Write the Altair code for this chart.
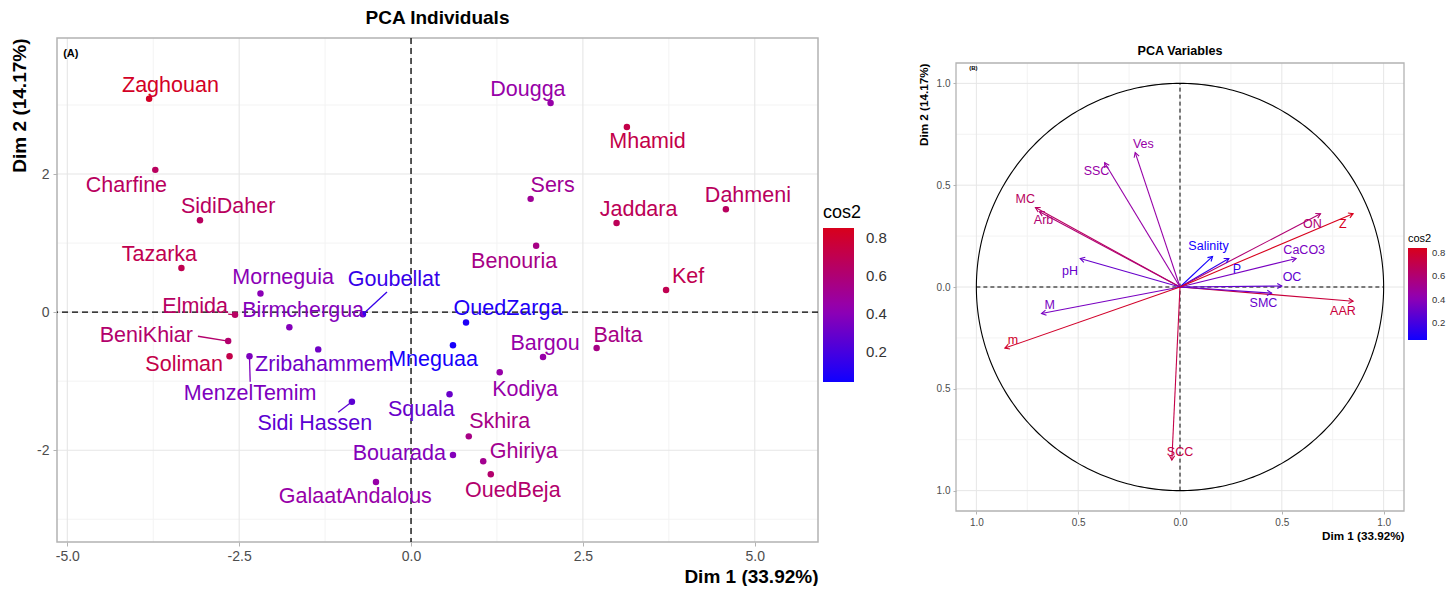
import numpy as np
import pandas as pd
import altair as alt

FONT = "Liberation Sans, Arial, sans-serif"

# ---------------- Individuals ----------------
names = ["Zaghouan", "Charfine", "SidiDaher", "Tazarka", "Morneguia", "Goubellat", "Elmida",
         "Birmchergua", "BeniKhiar", "Soliman", "Zribahammem", "MenzelTemim", "Sidi Hassen",
         "Mneguaa", "OuedZarga", "Squala", "Bouarada", "GalaatAndalous", "Skhira", "Dougga",
         "Mhamid", "Sers", "Jaddara", "Dahmeni", "Benouria", "Kef", "Bargou", "Balta",
         "Kodiya", "Ghiriya", "OuedBeja"]
dim1 = [-3.81, -3.72, -3.07, -3.34, -2.19, -0.70, -2.56, -1.77, -2.66, -2.64, -1.35, -2.35,
        -0.86, 0.61, 0.80, 0.56, 0.61, -0.51, 0.84, 2.03, 3.14, 1.74, 2.99, 4.58, 1.82, 3.71,
        1.92, 2.70, 1.29, 1.05, 1.16]
dim2 = [3.09, 2.06, 1.33, 0.64, 0.27, -0.03, -0.04, -0.22, -0.42, -0.64, -0.54, -0.64,
        -1.30, -0.48, -0.15, -1.19, -2.07, -2.46, -1.80, 3.03, 2.68, 1.64, 1.29, 1.49, 0.96,
        0.32, -0.65, -0.52, -0.87, -2.16, -2.35]
cos2 = [0.82, 0.66, 0.66, 0.70, 0.40, 0.15, 0.65, 0.38, 0.62, 0.72, 0.32, 0.36, 0.26, 0.06,
        0.08, 0.30, 0.38, 0.45, 0.55, 0.45, 0.72, 0.50, 0.68, 0.66, 0.55, 0.70, 0.45, 0.55,
        0.45, 0.52, 0.62]
lab_x = [-3.50, -4.14, -2.66, -3.66, -1.86, -0.25, -3.14, -1.57, -3.85, -3.30, -1.26, -2.34,
         -1.40, 0.32, 1.41, 0.15, -0.17, -0.81, 1.29, 1.70, 3.44, 2.06, 3.31, 4.90, 1.50,
         4.03, 1.95, 3.01, 1.66, 1.64, 1.48]
lab_y = [3.28, 1.83, 1.52, 0.83, 0.49, 0.46, 0.07, 0.01, -0.35, -0.77, -0.77, -1.19, -1.62,
         -0.70, 0.04, -1.42, -2.06, -2.68, -1.59, 3.22, 2.46, 1.83, 1.48, 1.68, 0.72, 0.51,
         -0.46, -0.35, -1.13, -2.03, -2.59]

# repel segments (label end, in data units)
seg_name = ["Goubellat", "BeniKhiar", "Sidi Hassen", "MenzelTemim", "Elmida"]
seg_end_x = [-0.35, -3.10, -1.06, -2.34, -2.66]
seg_end_y = [0.29, -0.35, -1.45, -1.01, -0.03]

x1_domain = [-5.15, 5.92]
y1_domain = [-3.33, 3.97]
x1_major = [-5.0, -2.5, 0.0, 2.5, 5.0]
x1_minor = [-3.75, -1.25, 1.25, 3.75]
y1_major = [-2, 0, 2]
y1_minor = [-3, -1, 1, 3]

# ---------------- Variables ----------------
vars_ = ["Ves", "SSC", "MC", "Arb", "pH", "M", "m", "SCC", "AAR", "SMC", "OC", "CaCO3", "P",
         "Salinity", "ON", "Z"]
v1 = [-0.22, -0.37, -0.71, -0.69, -0.49, -0.68, -0.86, -0.04, 0.85, 0.45, 0.50, 0.57, 0.24,
      0.16, 0.69, 0.85]
v2 = [0.66, 0.61, 0.39, 0.37, 0.14, -0.13, -0.30, -0.85, -0.07, -0.03, 0.005, 0.14, 0.14,
      0.15, 0.36, 0.36]
vcos2 = [0.45, 0.45, 0.65, 0.60, 0.30, 0.35, 0.80, 0.72, 0.75, 0.30, 0.28, 0.35, 0.15, 0.06,
         0.60, 0.84]
vlab_x = [-0.18, -0.41, -0.76, -0.67, -0.54, -0.64, -0.82, 0.00, 0.80, 0.41, 0.55, 0.61,
          0.28, 0.14, 0.65, 0.80]
vlab_y = [0.70, 0.57, 0.43, 0.33, 0.08, -0.09, -0.26, -0.81, -0.12, -0.08, 0.05, 0.18, 0.09,
          0.20, 0.31, 0.31]

x2_domain = [-1.1, 1.1]
y2_domain = [-1.1, 1.1]
r_major = [-1.0, -0.5, 0.0, 0.5, 1.0]
r_minor = [-0.75, -0.25, 0.25, 0.75]

# ---------------- colours ----------------
COLS = ["#1000FF", "#9200B2", "#D8001C"]
C1 = [0.04, 0.42, 0.85]      # left colour stops (cos2)
C2 = [0.055, 0.42, 0.84]     # right colour stops (cos2)

# ================= LEFT PANEL =================
W1, H1 = 761, 504
xs1 = alt.Scale(domain=x1_domain, nice=False, zero=False)
ys1 = alt.Scale(domain=y1_domain, nice=False, zero=False)
ax_x1 = alt.Axis(values=x1_major, labelExpr="replace(format(datum.value, '.1f'), '\u2212', '-')",
                 title="Dim 1 (33.92%)", grid=False,
                 domain=False, tickSize=4, tickColor="#B3B3B3", labelFontSize=14,
                 labelColor="#4D4D4D", labelPadding=3, titleFontSize=19, titleFontWeight="bold",
                 titleColor="#000000", titleAnchor="end", titlePadding=4, labelFont=FONT,
                 titleFont=FONT)
ax_y1 = alt.Axis(values=y1_major, labelExpr="replace(format(datum.value, 'd'), '\u2212', '-')",
                 title="Dim 2 (14.17%)", grid=False,
                 domain=False, tickSize=4, tickColor="#B3B3B3", labelFontSize=14,
                 labelColor="#4D4D4D", labelPadding=4, titleFontSize=19, titleFontWeight="bold",
                 titleColor="#000000", titleAnchor="end", titlePadding=7, labelFont=FONT,
                 titleFont=FONT)
fs1 = alt.Scale(domain=C1, range=COLS, interpolate="rgb")
ss1 = alt.Scale(domain=[c * 100 for c in C1], range=COLS, interpolate="rgb")
leg1 = alt.Legend(type="gradient", orient="none", legendX=766, legendY=166, title="cos2",
                  titleFontSize=18, titleFontWeight="normal", titleColor="#000000",
                  titleFont=FONT, titlePadding=6, labelFontSize=15, labelColor="#333333",
                  labelFont=FONT, gradientLength=154, gradientThickness=31,
                  values=[0.2, 0.4, 0.6, 0.8], direction="vertical", gradientStrokeWidth=0,
                  labelOffset=12, format=".1f")

ind = pd.DataFrame({"name": names, "d1": dim1, "d2": dim2, "cos2": cos2,
                    "lx": lab_x, "ly": lab_y})
seg = pd.DataFrame({"name": seg_name, "ex": seg_end_x, "ey": seg_end_y}).merge(ind, on="name")

gx1_minor = pd.DataFrame({"v": x1_minor})
gx1_major = pd.DataFrame({"v": x1_major})
gy1_minor = pd.DataFrame({"v": y1_minor})
gy1_major = pd.DataFrame({"v": y1_major})
box1 = pd.DataFrame({"a": [x1_domain[0]], "b": [x1_domain[1]],
                     "c": [y1_domain[0]], "d": [y1_domain[1]]})
zero1 = pd.DataFrame({"z": [0.0]})
tagA = pd.DataFrame({"x": [-5.06], "y": [3.74], "t": ["(A)"]})

def X1(f):
    return alt.X(f, type="quantitative", scale=xs1, axis=ax_x1)

def Y1(f):
    return alt.Y(f, type="quantitative", scale=ys1, axis=ax_y1)

l_gxm = alt.Chart(gx1_minor).mark_rule(color="#F3F3F3", strokeWidth=1).encode(x=X1("v"))
l_gym = alt.Chart(gy1_minor).mark_rule(color="#F3F3F3", strokeWidth=1).encode(y=Y1("v"))
l_gxM = alt.Chart(gx1_major).mark_rule(color="#E6E6E6", strokeWidth=1.1).encode(x=X1("v"))
l_gyM = alt.Chart(gy1_major).mark_rule(color="#E6E6E6", strokeWidth=1.1).encode(y=Y1("v"))
l_box = alt.Chart(box1).mark_rect(fillOpacity=0, stroke="#B3B3B3", strokeWidth=1.5).encode(
    x=X1("a"), x2="b", y=Y1("c"), y2="d")
l_v0 = alt.Chart(zero1).mark_rule(color="#000000", strokeWidth=1.3, strokeDash=[6, 4]).encode(
    x=X1("z"))
l_h0 = alt.Chart(zero1).mark_rule(color="#000000", strokeWidth=1.3, strokeDash=[6, 4]).encode(
    y=Y1("z"))
l_seg = alt.Chart(seg).transform_calculate(c100="datum.cos2 * 100").mark_rule(
    strokeWidth=1.3).encode(
    x=X1("d1"), y=Y1("d2"), x2="ex", y2="ey",
    stroke=alt.Stroke("c100:Q", scale=ss1, legend=None))
l_pts = alt.Chart(ind).mark_circle(size=42, opacity=1).encode(
    x=X1("d1"), y=Y1("d2"), fill=alt.Fill("cos2:Q", scale=fs1, legend=leg1))
l_txt = alt.Chart(ind).mark_text(fontSize=21.5, font=FONT, baseline="middle",
                                 align="center").encode(
    x=X1("lx"), y=Y1("ly"), text="name:N",
    fill=alt.Fill("cos2:Q", scale=fs1, legend=leg1))
l_tag = alt.Chart(tagA).mark_text(fontSize=11, fontWeight="bold", font=FONT, align="left",
                                  baseline="middle", color="#000000").encode(
    x=X1("x"), y=Y1("y"), text="t:N")

left = alt.layer(l_gxm, l_gym, l_gxM, l_gyM, l_box, l_v0, l_h0, l_seg, l_pts, l_txt,
                 l_tag).properties(
    width=W1, height=H1,
    view=alt.ViewBackground(stroke="transparent", strokeWidth=0),
    title=alt.TitleParams("PCA Individuals", fontSize=19, fontWeight="bold", font=FONT,
                          anchor="middle", baseline="alphabetic", offset=-6,
                          color="#000000"))

# ================= RIGHT PANEL =================
W2 = 448
TOPGAP = 25
H2 = 448 + TOPGAP
xs2 = alt.Scale(domain=x2_domain, nice=False, zero=False)
ys2 = alt.Scale(domain=y2_domain, nice=False, zero=False, range=[H2, TOPGAP])
lab_expr = "replace(replace(format(datum.value, '.1f'), '-', ''), '\u2212', '')"
ax_x2 = alt.Axis(values=r_major, labelExpr=lab_expr, title="Dim 1 (33.92%)", grid=False,
                 domain=False, tickSize=3, tickColor="#B3B3B3", labelFontSize=10,
                 labelColor="#4D4D4D", labelPadding=3, titleFontSize=11.7,
                 titleFontWeight="bold", titleColor="#000000", titleAnchor="end",
                 titlePadding=3, labelFont=FONT, titleFont=FONT)
ax_y2 = alt.Axis(values=r_major, labelExpr=lab_expr, title="Dim 2 (14.17%)", grid=False,
                 domain=False, tickSize=3, tickColor="#B3B3B3", labelFontSize=10,
                 labelColor="#4D4D4D", labelPadding=3, titleFontSize=11.7,
                 titleFontWeight="bold", titleColor="#000000", titleAnchor="end",
                 titlePadding=7, labelFont=FONT, titleFont=FONT)
fs2 = alt.Scale(domain=C2, range=COLS, interpolate="rgb")
ss2 = alt.Scale(domain=[c * 100 for c in C2], range=COLS, interpolate="rgb")
leg2 = alt.Legend(type="gradient", orient="none", legendX=452, legendY=195, title="cos2",
                  titleFontSize=11, titleFontWeight="normal", titleColor="#000000",
                  titleFont=FONT, titlePadding=4, labelFontSize=9.5, labelColor="#333333",
                  labelFont=FONT, gradientLength=92, gradientThickness=19,
                  values=[0.2, 0.4, 0.6, 0.8], direction="vertical", gradientStrokeWidth=0,
                  labelOffset=5, format=".1f")

var = pd.DataFrame({"var": vars_, "v1": v1, "v2": v2, "cos2": vcos2, "lx": vlab_x,
                    "ly": vlab_y, "o": [0.0] * len(vars_)})
gr_minor = pd.DataFrame({"v": r_minor})
gr_major = pd.DataFrame({"v": r_major})
box2 = pd.DataFrame({"a": [x2_domain[0]], "b": [x2_domain[1]],
                     "c": [y2_domain[0]], "d": [y2_domain[1]]})
theta = np.linspace(0, 2 * np.pi, 361)
circ = pd.DataFrame({"cx": np.cos(theta), "cy": np.sin(theta), "k": np.arange(361)})
axes0 = pd.DataFrame({"lo": [-1.0], "hi": [1.0], "z": [0.0]})
tagB = pd.DataFrame({"x": [-1.035], "y": [1.075], "t": ["(B)"]})

def X2(f):
    return alt.X(f, type="quantitative", scale=xs2, axis=ax_x2)

def Y2(f):
    return alt.Y(f, type="quantitative", scale=ys2, axis=ax_y2)

r_gxm = alt.Chart(gr_minor).mark_rule(color="#F3F3F3", strokeWidth=1).encode(
    x=X2("v"), y=alt.value(TOPGAP), y2=alt.value(H2))
r_gym = alt.Chart(gr_minor).mark_rule(color="#F3F3F3", strokeWidth=1).encode(y=Y2("v"))
r_gxM = alt.Chart(gr_major).mark_rule(color="#E6E6E6", strokeWidth=1).encode(
    x=X2("v"), y=alt.value(TOPGAP), y2=alt.value(H2))
r_gyM = alt.Chart(gr_major).mark_rule(color="#E6E6E6", strokeWidth=1).encode(y=Y2("v"))
r_box = alt.Chart(box2).mark_rect(fillOpacity=0, stroke="#B3B3B3", strokeWidth=1.3).encode(
    x=X2("a"), x2="b", y=Y2("c"), y2="d")
r_circ = alt.Chart(circ).mark_line(color="#000000", strokeWidth=1.1).encode(
    x=X2("cx"), y=Y2("cy"), order="k:Q")
r_h0 = alt.Chart(axes0).mark_rule(color="#000000", strokeWidth=1, strokeDash=[4, 3]).encode(
    x=X2("lo"), x2="hi", y=Y2("z"))
r_v0 = alt.Chart(axes0).mark_rule(color="#000000", strokeWidth=1, strokeDash=[4, 3]).encode(
    y=Y2("lo"), y2="hi", x=X2("z"))
r_vec = alt.Chart(var).transform_calculate(c100="datum.cos2 * 100").mark_rule(
    strokeWidth=1.1).encode(
    x=X2("o"), y=Y2("o"), x2="v1", y2="v2",
    stroke=alt.Stroke("c100:Q", scale=ss2, legend=None))
r_head = alt.Chart(var).transform_calculate(
    ang="atan2(datum.v1, datum.v2) * 180 / PI", c100="datum.cos2 * 100"
).mark_point(shape="M -0.5 0.866 L 0 0 L 0.5 0.866", filled=False, size=110,
             strokeWidth=1.1, opacity=1).encode(
    x=X2("v1"), y=Y2("v2"), angle=alt.Angle("ang:Q", scale=None),
    stroke=alt.Stroke("c100:Q", scale=ss2, legend=None))
r_txt = alt.Chart(var).mark_text(fontSize=12.5, font=FONT, baseline="middle",
                                 align="center").encode(
    x=X2("lx"), y=Y2("ly"), text="var:N",
    fill=alt.Fill("cos2:Q", scale=fs2, legend=leg2))
r_tag = alt.Chart(tagB).mark_text(fontSize=6, fontWeight="bold", font=FONT, align="left",
                                  baseline="middle", color="#000000").encode(
    x=X2("x"), y=Y2("y"), text="t:N")

right = alt.layer(r_gxm, r_gym, r_gxM, r_gyM, r_box, r_circ, r_h0, r_v0, r_vec, r_head,
                  r_txt, r_tag).properties(
    width=W2, height=H2,
    view=alt.ViewBackground(stroke="transparent", strokeWidth=0),
    title=alt.TitleParams("PCA Variables", fontSize=12.6, fontWeight="bold", font=FONT,
                          anchor="middle", baseline="alphabetic", offset=-30,
                          color="#000000"))

chart = alt.hconcat(left, right, spacing=31).resolve_scale(
    fill="independent", stroke="independent"
).properties(
    padding={"left": 2, "top": 1, "right": 0, "bottom": 0}
).configure_view(stroke="transparent", strokeWidth=0).configure(font=FONT,
                                                                  background="#FFFFFF")

chart.save("out.html", embed_options={"renderer": "svg", "actions": False})
